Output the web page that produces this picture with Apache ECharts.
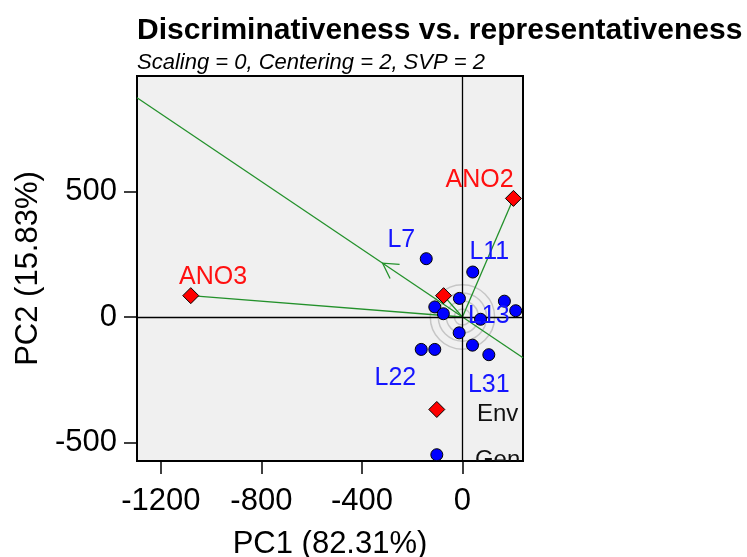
<!DOCTYPE html>
<html><head><meta charset="utf-8">
<script src="https://cdn.jsdelivr.net/npm/echarts@6/dist/echarts.min.js"></script>
<style>html,body{margin:0;padding:0;background:#fff}#c{width:747px;height:557px}</style>
</head><body><div id="c"></div>
<script>
// ---- data ----
const envNames = ['ANO1', 'ANO2', 'ANO3'];
const envX = [-75, 203, -1081];
const envY = [85, 472, 85];

const genX = [-144, 41, -12, -110, -76, 167, 212, 72, -13, 40, 105, -164, -110];
const genY = [232, 179, 74, 40, 13, 63, 25, -9, -63, -112, -150, -129, -129];

const genLabelText = ['L7', 'L11', 'L13', 'L22', 'L31'];
const genLabelX = [-243, 107, 105, -267, 105];
const genLabelY = [317, 271, 15, -233, -260];

const envLabelText = ['ANO2', 'ANO3'];
const envLabelX = [68, -992];
const envLabelY = [556, 172];

const legendText = ['Env', 'Gen'];
const legendMarkX = [-102, -102];
const legendMarkY = [-368, -548];
const legendLabelX = [140, 140];
const legendLabelY = [-376, -560];

const xTicks = [-1200, -800, -400, 0];
const yTicks = [-500, 0, 500];
const circleRadii = [32, 64, 96, 128];
const xRange = [-1295, 241];
const yRange = [-573, 959];

// ---- derived ----
const FONT = '"Liberation Sans", Arial, sans-serif';
const meanX = envX.reduce((a, b) => a + b, 0) / envX.length;
const meanY = envY.reduce((a, b) => a + b, 0) / envY.length;
const slope = meanY / meanX;
const aeaLine = [[xRange[0], slope * xRange[0]], [xRange[1], slope * xRange[1]]];
const GREEN = '#23912b';

const labels = [];
genLabelText.forEach((t, i) => labels.push([genLabelX[i], genLabelY[i], t, '#1515ff', 25]));
envLabelText.forEach((t, i) => labels.push([envLabelX[i], envLabelY[i], t, '#ff1010', 25]));
legendText.forEach((t, i) => labels.push([legendLabelX[i], legendLabelY[i], t, '#111', 24]));

const chart = echarts.init(document.getElementById('c'), null, { renderer: 'canvas' });
chart.setOption({
  animation: false,
  backgroundColor: '#fff',
  title: {
    text: 'Discriminativeness vs. representativeness',
    subtext: 'Scaling = 0, Centering = 2, SVP = 2',
    left: 137, top: 16, padding: 0, itemGap: 6,
    textStyle: { fontFamily: FONT, fontSize: 30, fontWeight: 'bold', color: '#000' },
    subtextStyle: { fontFamily: FONT, fontSize: 22, fontStyle: 'italic', color: '#000' }
  },
  grid: {
    show: true, left: 137, top: 76, right: 224, bottom: 96,
    backgroundColor: '#f0f0f0', borderColor: '#000', borderWidth: 2,
    containLabel: false, outerBoundsMode: 'none'
  },
  xAxis: {
    type: 'value', min: xRange[0], max: xRange[1],
    axisLine: { show: false, onZero: false }, splitLine: { show: false },
    axisTick: { show: true, length: 13, lineStyle: { color: '#000', width: 1.5 }, customValues: xTicks },
    axisLabel: { customValues: xTicks, fontSize: 31, color: '#000', margin: 25, fontFamily: FONT,
      formatter: v => String(v) },
    name: 'PC1 (82.31%)', nameLocation: 'middle', nameGap: 68,
    nameTextStyle: { fontSize: 31, color: '#000', fontFamily: FONT }
  },
  yAxis: {
    type: 'value', min: yRange[0], max: yRange[1],
    axisLine: { show: false, onZero: false }, splitLine: { show: false },
    axisTick: { show: true, length: 13, lineStyle: { color: '#000', width: 1.5 }, customValues: yTicks },
    axisLabel: { customValues: yTicks, fontSize: 31, color: '#000', margin: 20, fontFamily: FONT,
      padding: [8, 0, 0, 0], formatter: v => String(v) },
    name: 'PC2 (15.83%)', nameLocation: 'middle', nameGap: 92, nameRotate: 90,
    nameTextStyle: { fontSize: 31, color: '#000', fontFamily: FONT }
  },
  series: [
    {
      type: 'custom', name: 'circles', clip: true, silent: true, z: 1,
      data: circleRadii.map(r => [0, 0, r]),
      renderItem: function (params, api) {
        const c = api.coord([0, 0]);
        const r = api.size([api.value(2), 0])[0];
        return { type: 'circle', shape: { cx: c[0], cy: c[1], r: r },
          style: { fill: null, stroke: '#c6c6c6', lineWidth: 1.5 } };
      },
      markLine: {
        silent: true, symbol: 'none', animation: false,
        label: { show: false },
        lineStyle: { color: '#000', width: 1.3, type: 'solid' },
        data: [{ xAxis: 0 }, { yAxis: 0 }]
      }
    },
    {
      type: 'line', name: 'AEA', data: aeaLine, symbol: 'none', silent: true, z: 2,
      lineStyle: { color: GREEN, width: 1.3 }
    },
    {
      type: 'custom', name: 'vectors', clip: true, silent: true, z: 3,
      data: envX.map((x, i) => [x, envY[i]]),
      renderItem: function (params, api) {
        const o = api.coord([0, 0]);
        const p = api.coord([api.value(0), api.value(1)]);
        return { type: 'line', shape: { x1: o[0], y1: o[1], x2: p[0], y2: p[1] },
          style: { stroke: GREEN, lineWidth: 1.3 } };
      }
    },
    {
      type: 'custom', name: 'arrow', clip: true, silent: true, z: 3,
      data: [[meanX, meanY]],
      renderItem: function (params, api) {
        const o = api.coord([0, 0]);
        const p = api.coord([api.value(0), api.value(1)]);
        const ang = Math.atan2(o[1] - p[1], o[0] - p[0]);
        const L = 17, a = Math.PI / 6;
        const q1 = [p[0] + L * Math.cos(ang + a), p[1] + L * Math.sin(ang + a)];
        const q2 = [p[0] + L * Math.cos(ang - a), p[1] + L * Math.sin(ang - a)];
        return { type: 'polyline', shape: { points: [q1, p, q2] },
          style: { stroke: GREEN, lineWidth: 1.3, fill: null } };
      }
    },
    {
      type: 'scatter', name: 'Genotypes', z: 5,
      data: genX.map((x, i) => [x, genY[i]]),
      symbol: 'circle', symbolSize: 12,
      itemStyle: { color: '#0000ff', borderColor: '#000', borderWidth: 1, opacity: 1 }
    },
    {
      type: 'scatter', name: 'Environments', z: 6,
      data: envX.map((x, i) => [x, envY[i]]),
      symbol: 'diamond', symbolSize: 16,
      itemStyle: { color: '#ff0000', borderColor: '#000', borderWidth: 1, opacity: 1 }
    },
    {
      type: 'scatter', name: 'legendEnv', z: 6,
      data: [[legendMarkX[0], legendMarkY[0]]],
      symbol: 'diamond', symbolSize: 16,
      itemStyle: { color: '#ff0000', borderColor: '#000', borderWidth: 1, opacity: 1 }
    },
    {
      type: 'scatter', name: 'legendGen', z: 5, clip: true,
      data: [[legendMarkX[1], legendMarkY[1]]],
      symbol: 'circle', symbolSize: 12,
      itemStyle: { color: '#0000ff', borderColor: '#000', borderWidth: 1, opacity: 1 }
    },
    {
      type: 'custom', name: 'labels', clip: true, silent: true, z: 7,
      data: labels,
      renderItem: function (params, api) {
        const d = labels[params.dataIndex];
        const p = api.coord([d[0], d[1]]);
        return { type: 'text', x: p[0], y: p[1] + 3,
          style: { text: d[2], fill: d[3], fontSize: d[4], fontFamily: FONT,
            align: 'center', verticalAlign: 'middle' } };
      }
    }
  ]
});
</script>
</body></html>
